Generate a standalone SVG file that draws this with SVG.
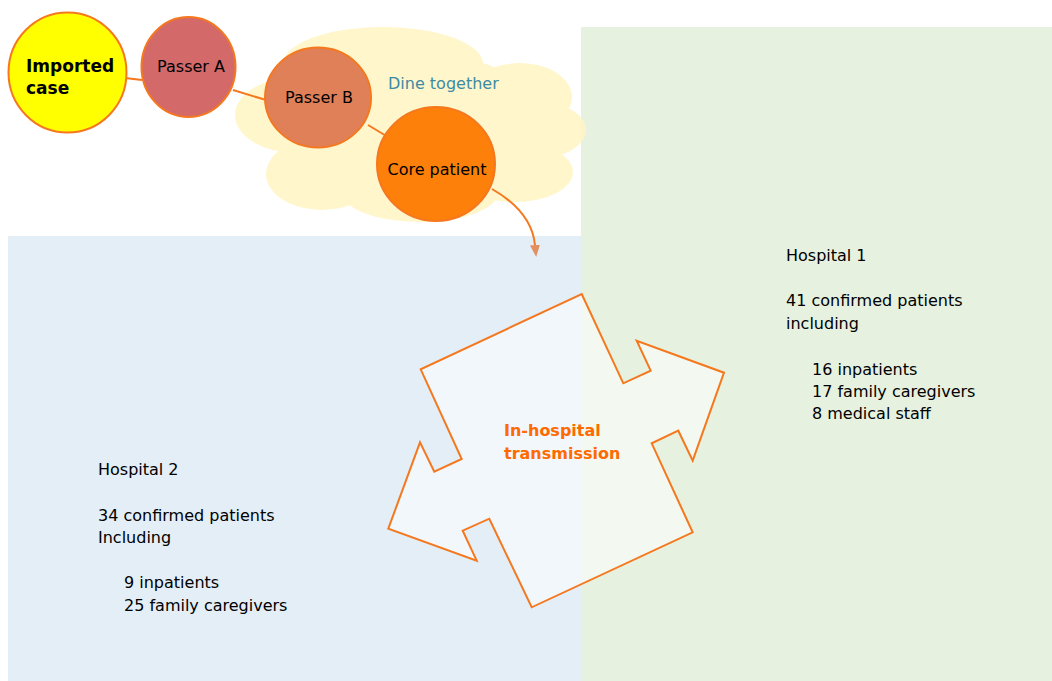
<svg xmlns="http://www.w3.org/2000/svg" width="1052" height="681" viewBox="0 0 1052 681">
<style>
.t{font-family:"DejaVu Sans",Verdana,sans-serif;font-size:16px;fill:#000}
.b{font-weight:bold}
.node{stroke:#f5781e;stroke-width:2}
.conn{stroke:#f5781e;stroke-width:2;fill:none}
.cloud ellipse{fill:#fff6c8}
</style>
<defs>
<marker id="ah" viewBox="0 0 12 10" refX="0" refY="5" markerWidth="12" markerHeight="10" markerUnits="userSpaceOnUse" orient="auto">
<path d="M0,0 L12,5 L0,10 Z" fill="#e39060"/>
</marker>
</defs>
<rect width="1052" height="681" fill="#fff"/>
<rect id="hospital2-bg" x="8" y="236" width="574" height="445" fill="#e3eef7"/>
<rect id="hospital1-bg" x="581" y="27" width="471" height="654" fill="#e6f1e0"/>
<g id="cloud" class="cloud" opacity="0.92">
<ellipse cx="383" cy="64" rx="100" ry="37"/>
<ellipse cx="520" cy="97" rx="52" ry="34"/>
<ellipse cx="530" cy="130" rx="56" ry="30"/>
<ellipse cx="296" cy="115" rx="61" ry="38"/>
<ellipse cx="322" cy="174" rx="56" ry="36"/>
<ellipse cx="420" cy="190" rx="80" ry="32"/>
<ellipse cx="515" cy="172" rx="58" ry="30"/>
<ellipse cx="420" cy="125" rx="125" ry="72"/>
</g>
<g id="connectors">
<line class="conn" x1="125" y1="78" x2="142" y2="80"/>
<line class="conn" x1="233" y1="90" x2="266" y2="100"/>
<line class="conn" x1="368" y1="125" x2="388" y2="137"/>
<path class="conn" stroke-width="1.6" d="M492,189 C520,205 533,225 535,245" marker-end="url(#ah)"/>
</g>
<g id="imported-case">
<ellipse class="node" cx="67.5" cy="72.5" rx="59" ry="60" fill="#ffff00"/>
<text class="t b" x="26" y="72" style="font-size:17px">Imported</text>
<text class="t b" x="26" y="94" style="font-size:17px">case</text>
</g>
<g id="passer-a">
<ellipse class="node" cx="188.5" cy="67" rx="47" ry="50" fill="#d4696a"/>
<text class="t" x="191" y="72" text-anchor="middle">Passer A</text>
</g>
<g id="passer-b">
<ellipse class="node" cx="318" cy="97.5" rx="53" ry="50" fill="#e08058"/>
<text class="t" x="319" y="103" text-anchor="middle">Passer B</text>
</g>
<g id="core-patient">
<ellipse class="node" cx="436" cy="164" rx="59" ry="57" fill="#fc800a"/>
<text class="t" x="437" y="175" text-anchor="middle">Core patient</text>
</g>
<text id="dine-together" class="t" x="388" y="89" style="fill:#3d8ba3">Dine together</text>
<g id="in-hospital">
<polygon points="581.7,294 623.3,383.3 650.7,370.7 636.7,340.7 724,372.7 692.7,460.7 678.3,430.7 651.7,443.3 692.7,532.3 531.7,607.3 489.3,518.7 462.7,530.7 476.7,560.7 388.3,528.7 420,442.3 434.3,471.7 461.7,459 420.7,369.3" fill="#ffffff" fill-opacity="0.5" stroke="#f5781e" stroke-width="2"/>
<text class="t b" x="504" y="436" style="fill:#ff6a00">In-hospital</text>
<text class="t b" x="504" y="459" style="fill:#ff6a00">transmission</text>
</g>
<g id="hospital-1">
<text class="t" x="786" y="261">Hospital 1</text>
<text class="t" x="786" y="306">41 confirmed patients</text>
<text class="t" x="786" y="329">including</text>
<text class="t" x="812" y="375">16 inpatients</text>
<text class="t" x="812" y="397">17 family caregivers</text>
<text class="t" x="812" y="419">8 medical staff</text>
</g>
<g id="hospital-2">
<text class="t" x="98" y="475">Hospital 2</text>
<text class="t" x="98" y="521">34 confirmed patients</text>
<text class="t" x="98" y="543">Including</text>
<text class="t" x="124" y="588">9 inpatients</text>
<text class="t" x="124" y="611">25 family caregivers</text>
</g>
</svg>
